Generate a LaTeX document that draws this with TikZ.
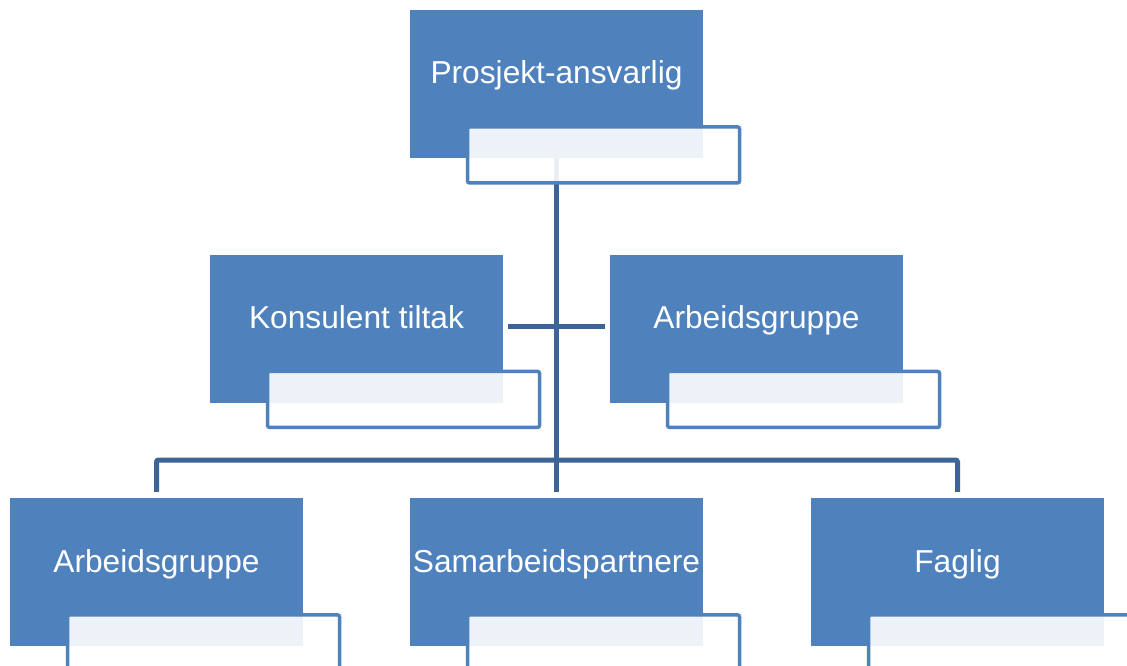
\documentclass[tikz,border=0pt]{standalone}
\usepackage{fontspec}
\setmainfont{Liberation Sans}
\usetikzlibrary{positioning}

\definecolor{unitblue}{HTML}{4F81BD}
\definecolor{linkblue}{HTML}{3D6496}

\tikzset{
    unitbox/.style={fill=unitblue, draw=none, text=white, inner sep=0pt,
        minimum width=293pt, minimum height=148pt,
        text height=14pt, text depth=14pt,
        font=\fontsize{31.7}{38}\selectfont},
    subbox/.style={draw=unitblue, line width=3.5pt, fill=white, fill opacity=0.9,
        rounded corners=2pt, minimum width=272pt, minimum height=56pt,
        inner sep=0pt, anchor=north west},
    link/.style={draw=linkblue, line width=5pt, rounded corners=2pt}
}

\begin{document}
\begin{tikzpicture}[x=1pt, y=-1pt]

    \useasboundingbox (0,0) rectangle (1127,666);

    \node[unitbox] (ansvarlig) at (556.5,84)  {};
    \node[unitbox] (konsulent) at (356.5,328.5) {};
    \node[unitbox] (arbeidm) at (756.5,328.5) {};
    \node[unitbox] (arbeidl) at (156.5,572) {};
    \node[unitbox] (samarbeid) at (556.5,572) {};
    \node[unitbox] (faglig) at (957.5,572) {};

    \coordinate (bus) at (556.5,460);

    % connectors go below the boxes
    \begin{scope}[link]
        \draw (ansvarlig.south) -- ([yshift=6pt]samarbeid.north);
        \draw ([yshift=6pt]arbeidl.north) |- (bus) -| ([yshift=6pt]faglig.north);
        \draw ([xshift=5pt,yshift=2pt]konsulent.east) -- ([xshift=-5pt,yshift=2pt]arbeidm.west);
    \end{scope}

    \node[unitbox] at (ansvarlig) {Prosjekt-ansvarlig};
    \node[unitbox] at (konsulent) {Konsulent tiltak};
    \node[unitbox] at (arbeidm) {Arbeidsgruppe};
    \node[unitbox] at (arbeidl) {Arbeidsgruppe};
    \node[unitbox] at (samarbeid) {Samarbeidspartnere};
    \node[unitbox] at (faglig) {Faglig};

    \foreach \unit in {ansvarlig, konsulent, arbeidm, arbeidl, samarbeid, faglig}
        \node[subbox] (\unit-sub) at ([shift={(56,-33)}]\unit.south west) {};

\end{tikzpicture}
\end{document}
